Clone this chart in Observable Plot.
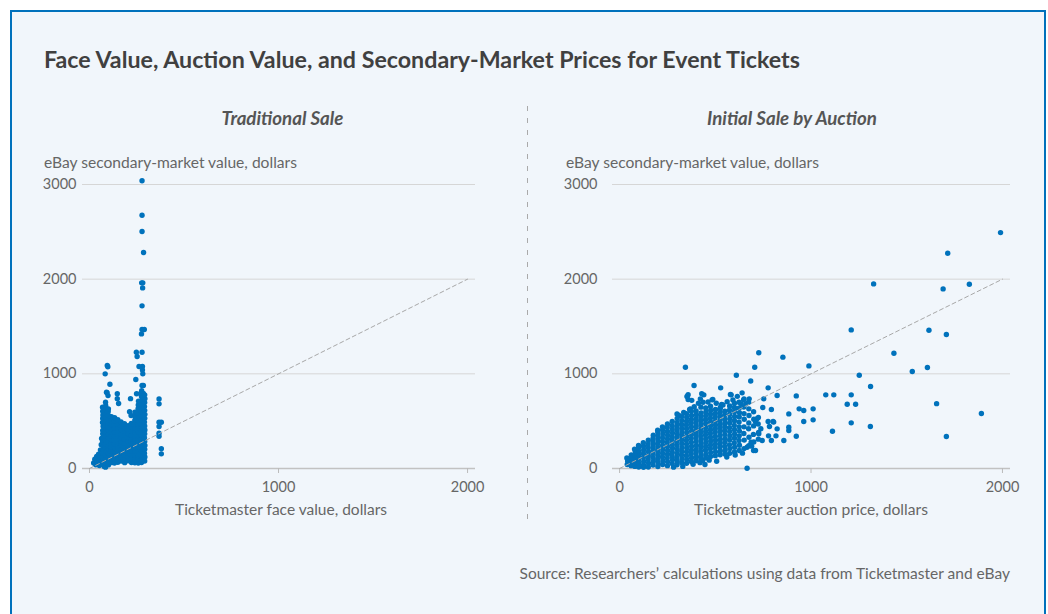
<!DOCTYPE html>
<html>
<head>
<meta charset="utf-8">
<script src="https://cdn.jsdelivr.net/npm/d3@7"></script>
<script src="https://cdn.jsdelivr.net/npm/@observablehq/plot@0.6"></script>
<style>
  html, body { margin: 0; padding: 0; background: #ffffff; }
  body { width: 1048px; height: 614px; overflow: hidden; position: relative; font-family: Lato, sans-serif; }
  #frame { position: absolute; left: 10px; top: 10px; width: 1036px; height: 660px; box-sizing: border-box;
           border: 2px solid #0071bc; background: #f1f6fb; }
  .panel { position: absolute; top: 140px; width: 500px; height: 400px; }
  #left { left: 0px; }
  #right { left: 530px; }
  #overlay { position: absolute; left: 0; top: 0; pointer-events: none; }
</style>
</head>
<body>
<div id="frame"></div>
<div id="left" class="panel"></div>
<div id="right" class="panel"></div>
<svg id="overlay" width="1048" height="614"></svg>
<script>
// ---------- text ----------
const chartTitle = "Face Value, Auction Value, and Secondary-Market Prices for Event Tickets";
const panelTitles = ["Traditional Sale", "Initial Sale by Auction"];
const yLabel = "eBay secondary-market value, dollars";
const xLabels = ["Ticketmaster face value, dollars", "Ticketmaster auction price, dollars"];
const source = "Source: Researchers\u2019 calculations using data from Ticketmaster and eBay";

// ---------- scales / ticks ----------
const xTicks = [0, 1000, 2000];
const yTicks = [0, 1000, 2000, 3000];
const xDomain = [-37, 2042];
const yDomain = [0, 3000];
const parity = [[0, 0], [2000, 2000]];

// ---------- Traditional sale: [face value, eBay value] ----------
const tradPoints = [
  // upper outliers
  [278,3040],[278,2675],[278,2503],[286,2281],[276,1961],[282,1961],[281,1908],[278,1718],
  [278,1468],[290,1468],[275,1422],[248,1228],[278,1228],[252,1183],[262,1077],[280,1077],
  [280,1040],[282,1000],[245,940],[278,876],[285,876],[249,789],[271,789],[285,792],
  [94,1088],[97,1075],[83,1000],[108,890],[90,806],[93,800],[98,770],
  [147,789],[147,738],[154,687],[217,738],[212,600],[220,560],
  [368,735],[368,683],[368,489],[380,489],[368,443],[368,373],[368,341],[380,208],[380,155],
  // low-price tail
  [22,58],[28,98],[33,40],[38,128],[42,72],[48,150],[52,32],[55,112],[58,196],[60,64],[62,252],[64,318],[78,20],
  // column near $70
  [70,42],[71,85],[69,122],[70,165],[72,204],[70,246],[69,283],[71,325],[70,366],[70,402],[72,447],[69,486],[70,528],[71,566],[70,604],[69,648],
  // column near $85
  [85,14],[86,58],[84,98],[85,140],[86,178],[85,222],[84,262],[85,300],[86,342],[85,382],[84,424],[85,462],[86,503],[85,545],[84,582],[85,622],[86,663],[85,701],
  // column near $100
  [100,38],[101,80],[99,118],[100,160],[101,201],[100,242],[99,280],[100,322],[101,360],[100,404],[99,442],[100,484],[101,522],[100,560],[99,603],[100,630],
  // $115
  [115,62],[116,104],[114,143],[115,186],[116,224],[115,265],[114,306],[115,344],[116,386],[115,425],[114,465],[115,505],[116,548],
  // $132
  [132,58],[133,100],[131,140],[132,182],[133,221],[132,262],[131,303],[132,342],[133,384],[132,424],[131,462],[132,503],[133,536],
  // $150
  [150,66],[151,108],[149,146],[150,188],[151,226],[150,268],[149,308],[150,346],[151,390],[150,428],[149,470],[150,516],
  // $168
  [168,80],[169,122],[167,162],[168,203],[169,244],[168,284],[167,326],[168,366],[169,408],[168,448],[167,492],
  // $186
  [186,62],[187,104],[185,146],[186,186],[187,228],[186,268],[185,310],[186,350],[187,390],[186,432],[185,474],
  // $204
  [204,82],[205,124],[203,164],[204,206],[205,246],[204,288],[203,328],[204,368],[205,410],[204,452],
  // $222
  [222,64],[223,106],[221,146],[222,188],[223,228],[222,270],[221,310],[222,350],[223,392],[222,432],[221,476],
  // $240
  [240,60],[241,102],[239,142],[240,184],[241,224],[240,264],[239,306],[240,346],[241,388],[240,428],[239,470],[240,510],[241,552],[240,596],
  // $258
  [258,58],[259,98],[257,140],[258,182],[259,222],[258,262],[257,304],[258,344],[259,386],[258,426],[257,468],[258,508],[259,548],[258,590],[257,632],[258,672],[259,712],
  // $275
  [275,64],[276,104],[274,146],[275,186],[276,228],[275,268],[274,310],[275,350],[276,392],[275,432],[274,474],[275,514],[276,556],[275,596],[274,638],[275,678],[276,720],[275,760],[274,800],[276,822],
  // $292
  [292,80],[293,122],[291,162],[292,204],[293,244],[292,286],[291,326],[292,366],[293,408],[292,450],[291,490],[292,532],[293,572],[292,614],[291,654],[292,696],[293,738],[292,778]
];

// ---------- Auction sale: [auction price, eBay value] ----------
const auctionPoints = [
  // scattered high / outlying sales
  [1990,2492],[1714,2274],[1327,1950],[1690,1897],[1827,1947],[1210,1464],[1616,1460],[1707,1415],
  [1433,1218],[1529,1024],[1608,1067],[989,1084],[853,1176],[727,1222],[706,1070],[344,1070],
  [610,985],[1252,985],[685,925],[1311,866],[389,876],[528,852],[776,852],[1077,778],[1119,778],
  [1210,778],[823,771],[923,767],[1189,679],[1233,679],[1656,685],[1890,581],[938,630],[962,612],
  [1011,630],[1011,514],[962,496],[1210,482],[1310,443],[1112,394],[923,341],[1707,338],[666,3],
  [884,577],[884,436],[884,401],[823,419],[805,490],[793,623],[748,644],[778,345],[817,345],
  [858,296],[793,296],[753,736],[487,729],[527,647],[583,778],[640,799],[648,725],[677,736],
  [635,683],[660,683],[602,637],[440,778],[358,780],[358,729],[422,736],[370,630],[300,577],
  [434,84],[446,42],[507,77],[776,496],[802,496],[783,443],[745,296],[727,366],[687,278],
  [710,190],[666,225],[718,525],[710,493],[366,623],[352,760],[377,720],[429,790],[436,700],
  [483,725],[579,781],[533,676],
  // ragged cluster edges
  [310,560],[335,592],[390,652],[412,690],[462,702],[505,690],[540,672],[562,706],[592,724],[615,762],
  [330,22],[282,14],[384,44],[420,62],[468,88],[560,122],[604,142],[642,162],[690,236],[738,420],
  // main cluster
  [40,42],[42,80],[38,112],
  [60,30],[62,70],[58,108],[61,144],
  [80,22],[81,62],[79,102],[80,142],[82,182],[78,205],
  [100,16],[101,56],[99,96],[100,138],[101,178],[100,218],[99,244],
  [125,12],[125,34],[126,74],[124,116],[125,156],[126,196],[125,236],[124,272],
  [150,16],[151,56],[149,96],[150,136],[151,178],[150,218],[149,258],[150,300],
  [175,36],[176,76],[174,118],[175,158],[176,198],[175,238],[174,280],[175,320],[176,352],
  [200,20],[201,60],[199,100],[200,140],[201,182],[200,222],[199,262],[200,302],[201,344],[200,384],[199,404],
  [225,42],[226,82],[224,122],[225,162],[226,204],[225,244],[224,284],[225,324],[226,366],[225,406],[224,440],
  [250,30],[251,70],[249,110],[250,150],[251,190],[250,232],[249,272],[250,312],[251,352],[250,392],[249,434],[250,470],
  [275,52],[276,92],[274,132],[275,172],[276,214],[275,254],[274,294],[275,334],[276,376],[275,416],[274,456],[275,498],
  [300,40],[301,80],[299,120],[300,160],[301,200],[300,242],[299,282],[300,322],[301,362],[300,404],[299,444],[300,484],[301,528],
  [325,62],[326,102],[324,142],[325,182],[326,222],[325,264],[324,304],[325,344],[326,384],[325,426],[324,466],[325,506],[326,548],
  [350,56],[351,96],[349,136],[350,176],[351,216],[350,258],[349,298],[350,338],[351,378],[350,420],[349,460],[350,500],[351,540],[350,578],
  [375,74],[376,114],[374,154],[375,194],[376,236],[375,276],[374,316],[375,356],[376,396],[375,438],[374,478],[375,518],[376,560],[375,606],
  [400,82],[401,122],[399,162],[400,202],[401,244],[400,284],[399,324],[400,364],[401,406],[400,446],[399,486],[400,526],[401,568],[400,608],
  [425,100],[426,140],[424,180],[425,222],[426,262],[425,302],[424,342],[425,384],[426,424],[425,464],[424,504],[425,546],[426,588],[425,648],
  [450,112],[451,152],[449,192],[450,232],[451,274],[450,314],[449,354],[450,394],[451,436],[450,476],[449,516],[450,556],[451,598],[450,640],
  [475,128],[476,168],[474,208],[475,248],[476,290],[475,330],[474,370],[475,410],[476,452],[475,492],[474,532],[475,574],[476,616],[475,658],
  [500,136],[501,176],[499,218],[500,258],[501,298],[500,338],[499,380],[500,420],[501,460],[500,500],[499,542],[500,582],[501,624],
  [525,146],[526,186],[524,228],[525,268],[526,308],[525,348],[524,390],[525,430],[526,470],[525,512],[524,552],[525,594],[526,636],
  [550,152],[551,194],[549,234],[550,276],[551,316],[550,358],[549,398],[550,440],[551,480],[550,520],[549,562],[550,604],
  [575,160],[576,210],[574,250],[575,300],[576,345],[575,390],[574,430],[575,480],[576,525],[575,570],[574,615],[575,660],
  [600,175],[601,225],[599,270],[600,320],[601,365],[600,410],[599,455],[600,505],[601,550],[600,600],[599,645],[600,690],
  [625,190],[626,245],[624,295],[625,345],[626,395],[625,440],[624,490],[625,545],[626,590],[625,640],[624,700],
  [650,210],[651,300],[649,370],[650,440],[651,520],[650,580],[649,650],[650,735],
  [675,240],[676,330],[674,420],[675,480],[676,560],[675,630],[674,700],
  [700,190],[701,280],[699,360],[700,450],[701,520],[700,600],
  [725,310],[726,380],[724,470],[725,540]
];

const dotColor = "#0072bc";

function panel(points, marginRight, tickPad) {
  return Plot.plot({
    width: 500,
    height: 400,
    marginLeft: 82,
    marginRight: marginRight,
    marginTop: 44,
    marginBottom: 72,
    style: { background: "transparent", fontFamily: "Lato, sans-serif", fontSize: "14.5px", color: "#666", overflow: "visible" },
    x: { domain: xDomain },
    y: { domain: yDomain },
    marks: [
      Plot.gridY(yTicks.filter(d => d > 0), { stroke: "#d6d6d6", strokeOpacity: 1 }),
      Plot.ruleY([0], { stroke: "#c2c2c2", strokeWidth: 1.5 }),
      Plot.axisY(yTicks, { tickSize: 0, tickPadding: tickPad, tickFormat: "d", fill: "#666", label: null }),
      Plot.axisX(xTicks, { tickSize: 5, tickPadding: 8, tickFormat: "d", stroke: "#bbb", fill: "#666", label: null }),
      Plot.dot(points, { x: d => d[0], y: d => d[1], r: 2.7, fill: dotColor }),
      Plot.line(parity, { x: d => d[0], y: d => d[1], stroke: "#a8a8a8", strokeWidth: 1, strokeDasharray: "4,3" })
    ]
  });
}

document.getElementById("left").appendChild(panel(tradPoints, 25, 6));
document.getElementById("right").appendChild(panel(auctionPoints, 20, 15));

// ---------- overlay texts ----------
const svg = d3.select("#overlay").attr("font-family", "Lato, sans-serif");
function txt(str, x, y, anchor, size, weight, fstyle, color, targetW) {
  const t = svg.append("text").attr("x", x).attr("y", y).attr("text-anchor", anchor)
    .attr("font-size", size).attr("font-weight", weight).attr("font-style", fstyle)
    .attr("fill", color).text(str);
  if (targetW) {
    const w = t.node().getComputedTextLength();
    if (w > 0) t.attr("font-size", (size * targetW / w).toFixed(2));
  }
  return t;
}
txt(chartTitle, 44, 68, "start", 23, 700, "normal", "#404040", 756);
txt(panelTitles[0], 282.5, 124.5, "middle", 17, 700, "italic", "#555", 122);
txt(panelTitles[1], 792, 124.5, "middle", 17, 700, "italic", "#555", 170);
txt(yLabel, 44, 167.5, "start", 16, 400, "normal", "#666", 253);
txt(yLabel, 566, 167.5, "start", 16, 400, "normal", "#666", 253);
txt(xLabels[0], 281, 515, "middle", 16, 400, "normal", "#666", 212);
txt(xLabels[1], 811, 515, "middle", 16, 400, "normal", "#666", 234);
txt(source, 1010, 579, "end", 15, 400, "normal", "#666", 491);
svg.append("line").attr("x1", 527.5).attr("x2", 527.5).attr("y1", 106).attr("y2", 525)
  .attr("stroke", "#aaa").attr("stroke-width", 1).attr("stroke-dasharray", "5,7");
</script>
</body>
</html>
